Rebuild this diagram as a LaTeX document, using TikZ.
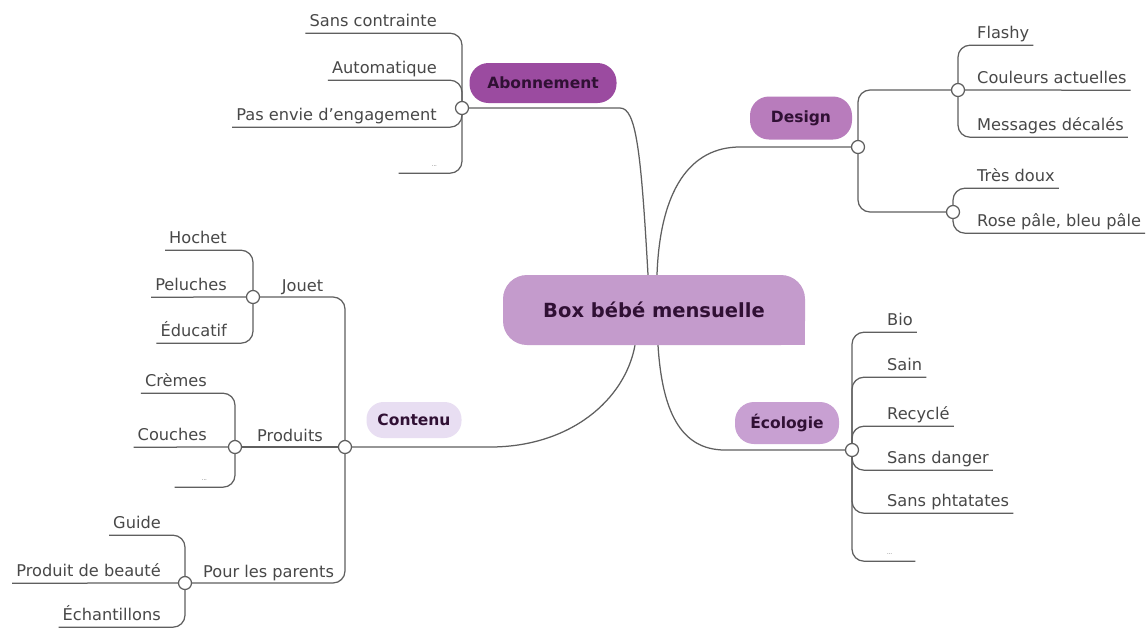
\documentclass[tikz,border=0pt]{standalone}
\usepackage{fontspec}
\setmainfont{DejaVu Sans}
\usetikzlibrary{backgrounds}

\definecolor{linecol}{RGB}{95,95,95}
\definecolor{leaftext}{RGB}{72,72,72}
\definecolor{pilltext}{RGB}{48,16,52}
\definecolor{maincol}{RGB}{196,155,204}
\definecolor{abocol}{RGB}{155,75,160}
\definecolor{descol}{RGB}{184,124,188}
\definecolor{ecocol}{RGB}{200,160,210}
\definecolor{concol}{RGB}{232,222,242}

\tikzset{
  link/.style={draw=linecol, line width=1.25pt, rounded corners=12pt},
  trunk/.style={draw=linecol, line width=1.25pt},
  hub/.style={circle, draw=linecol, fill=white, line width=1.25pt, minimum size=13pt, inner sep=0pt},
  pill/.style={rounded corners=19pt, inner sep=0pt, text=pilltext,
    font=\fontsize{15.5}{18}\selectfont\bfseries},
  leafbase/.style={text=leaftext, text depth=0pt, inner ysep=7pt, inner xsep=4pt,
    font=\fontsize{16.2}{20}\selectfont},
  leafL/.style={leafbase, anchor=base east},
  leafR/.style={leafbase, anchor=base west},
  dotsL/.style={leafL, align=right, font=\fontsize{5}{6}\selectfont},
  dotsR/.style={leafR, align=left, font=\fontsize{5}{6}\selectfont},
  sublab/.style={anchor=base, yshift=5.5pt, text=leaftext, inner sep=0pt,
    font=\fontsize{16.2}{20}\selectfont},
  mainbox/.style={fill=maincol, rounded corners=24pt, minimum width=302pt,
    minimum height=70pt, text=pilltext, font=\fontsize{19.5}{23}\selectfont\bfseries}
}

\begin{document}
\begin{tikzpicture}[x=1pt,y=-1pt]
\useasboundingbox (0,0) rectangle (1148,630);

% central topic
\node[mainbox] (m) at (654,310) {Box bébé mensuelle};
\fill[maincol] ([xshift=-24pt]m.south east) rectangle ([yshift=24pt]m.south east);

% main branches
\node[pill, fill=abocol, minimum width=147pt, minimum height=40pt] (abo) at (543,83) {Abonnement};
\node[pill, fill=descol, minimum width=102pt, minimum height=43pt] (des) at (801,118) {Design};
\node[pill, fill=ecocol, minimum width=104pt, minimum height=42pt] (eco) at (787,423) {Écologie};
\node[pill, fill=concol, minimum width=95pt, minimum height=36pt, rounded corners=17pt] (con) at (414,420) {Contenu};

% junction circles
\node[hub] (A) at (462,108) {};
\node[hub] (D) at (858,147) {};
\node[hub] (D1) at (958,90) {};
\node[hub] (D2) at (953,212) {};
\node[hub] (E) at (852,450) {};
\node[hub] (C) at (345,447) {};
\node[hub] (J) at (253,297) {};
\node[hub] (P) at (235,447) {};
\node[hub] (PP) at (185,583) {};

% Abonnement leaves
\node[leafL] (a1) at (441,26) {Sans contrainte};
\node[leafL] (a2) at (441,73) {Automatique};
\node[leafL] (a3) at (441,120) {Pas envie d'engagement};
\node[dotsL, text width=34pt] (a4) at (441,166) {…};

% Design leaves
\node[leafR] (d1) at (973,38) {Flashy};
\node[leafR] (d2) at (973,83) {Couleurs actuelles};
\node[leafR] (d3) at (973,130) {Messages décalés};
\node[leafR] (d4) at (973,181) {Très doux};
\node[leafR] (d5) at (973,226) {Rose pâle, bleu pâle};

% Écologie leaves
\node[leafR] (e1) at (883,325) {Bio};
\node[leafR] (e2) at (883,370) {Sain};
\node[leafR] (e3) at (883,419) {Recyclé};
\node[leafR] (e4) at (883,463) {Sans danger};
\node[leafR] (e5) at (883,506) {Sans phtatates};
\node[dotsR, text width=24pt] (e6) at (883,554) {…};

% Contenu leaves
\node[leafL] (j1) at (231,243) {Hochet};
\node[leafL] (j2) at (231,290) {Peluches};
\node[leafL] (j3) at (231,336) {Éducatif};
\node[leafL] (p1) at (211,386) {Crèmes};
\node[leafL] (p2) at (211,440) {Couches};
\node[dotsL, text width=28pt] (p3) at (211,480) {…};
\node[leafL] (q1) at (165,528) {Guide};
\node[leafL] (q2) at (165,576) {Produit de beauté};
\node[leafL] (q3) at (165,620) {Échantillons};

\begin{scope}[on background layer]
  \fill[white] (0,0) rectangle (1148,630);
  % trunks from the central topic
  \draw[trunk] ([xshift=-6pt]m.north) .. controls (641,150) and (636,108) .. (620,108) -- (A);
  \draw[trunk] ([xshift=3pt]m.north) .. controls (660,190) and (690,147) .. (740,147) -- (D);
  \draw[trunk] ([xshift=-19pt]m.south) .. controls (625,400) and (570,447) .. (490,447) -- (C);
  \draw[trunk] ([xshift=4pt]m.south) .. controls (662,410) and (680,450) .. (725,450) -- (E);

  % Abonnement
  \draw[link] (A) |- (a1.south west);
  \draw[link] (A) |- (a2.south west);
  \draw[link] (A) |- (a3.south west);
  \draw[link] (A) |- (a4.south west);

  % Design
  \draw[link] (D) |- (D1);
  \draw[link] (D) |- (D2);
  \draw[link] (D1) |- (d1.south east);
  \draw[link] (D1) -- (d2.south east);
  \draw[link] (D1) |- (d3.south east);
  \draw[link] (D2) |- (d4.south east);
  \draw[link] (D2) |- (d5.south east);

  % Écologie
  \foreach \n in {e1,e2,e3,e4,e5,e6}
    \draw[link] (E) |- (\n.south east);

  % Contenu
  \draw[link] (C) |- (J) node[sublab, pos=0.75] {Jouet};
  \draw[link] (C) -- (P) node[sublab, pos=0.5] {Produits};
  \draw[link] (C) |- (PP) node[sublab, pos=0.75] {Pour les parents};
  \draw[link] (J) |- (j1.south west);
  \draw[link] (J) -- (j2.south west);
  \draw[link] (J) |- (j3.south west);
  \draw[link] (P) |- (p1.south west);
  \draw[link] (P) -- (p2.south west);
  \draw[link] (P) |- (p3.south west);
  \draw[link] (PP) |- (q1.south west);
  \draw[link] (PP) -- (q2.south west);
  \draw[link] (PP) |- (q3.south west);
\end{scope}
\end{tikzpicture}
\end{document}
